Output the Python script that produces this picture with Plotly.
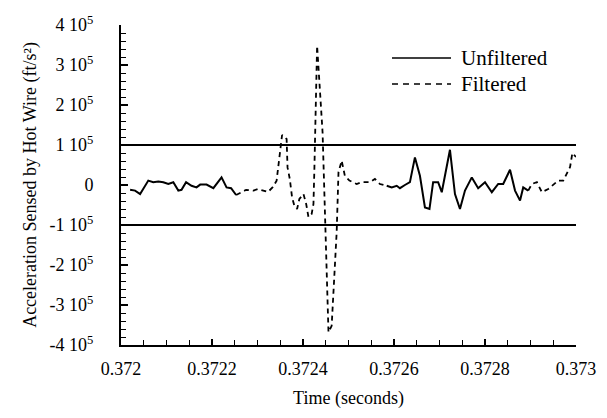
import plotly.graph_objects as go

# Unfiltered hot-wire acceleration (two stretches where it is shown)
t_unf_1 = [0.372020, 0.372031, 0.372042, 0.372060, 0.372071, 0.372082, 0.372093,
           0.372104, 0.372115, 0.372126, 0.372133, 0.372143, 0.372155, 0.372166,
           0.372174, 0.372188, 0.372203, 0.372221, 0.372232, 0.372242, 0.372253]
a_unf_1 = [-12000, -14000, -22500, 11000, 7000, 9000, 7000,
           2500, 7000, -14000, -12000, 7000, -2000, -6000,
           1000, 1000, -8000, 19000, -6000, -8000, -25000]

t_unf_2 = [0.372584, 0.372595, 0.372606, 0.372613, 0.372624, 0.372635, 0.372646,
           0.372657, 0.372668, 0.372678, 0.372686, 0.372697, 0.372705, 0.372714,
           0.372723, 0.372734, 0.372745, 0.372756, 0.372771, 0.372785, 0.372800,
           0.372815, 0.372829, 0.372840, 0.372855, 0.372866, 0.372877, 0.372884,
           0.372895]
a_unf_2 = [-2000, -6000, -2000, -8000, 0, 7000, 69000,
           23000, -56000, -60000, 7000, 7000, -18000, 36000,
           88000, -22500, -60000, -14000, 19000, -8000, 7000,
           -18000, 2500, 2500, 38000, -14000, -39000, -6000,
           -14000]

# Filtered acceleration
t_fil_1 = [0.372253, 0.372275, 0.372291, 0.372301, 0.372323, 0.372334, 0.372342,
           0.372349, 0.372354, 0.372364, 0.372366, 0.372371, 0.372376, 0.372381,
           0.372387, 0.372392, 0.372401, 0.372407, 0.372412, 0.372419, 0.372423,
           0.372425, 0.372431, 0.372443, 0.372448, 0.372456, 0.372463, 0.372474,
           0.372478, 0.372485, 0.372492, 0.372502, 0.372518, 0.372529, 0.372547,
           0.372558, 0.372569, 0.372584]
a_fil_1 = [-25000, -12000, -14000, -10000, -17500, -5000, 11000,
           73000, 125000, 115000, 44000, 15000, -31000, -52000,
           -60000, -35000, -22500, -47500, -80000, -72500, -47500,
           40000, 348000, 132000, -67500, -368000, -352000, -118000,
           32000, 61000, 23000, 11000, 2500, 7000, 7000,
           15000, 2500, -2000]

t_fil_2 = [0.372895, 0.372903, 0.372914, 0.372925, 0.372939, 0.372961, 0.372972,
           0.372987, 0.372992, 0.373000]
a_fil_2 = [-14000, 2500, 7000, -18000, -10000, 11000, 11000,
           45000, 80000, 70000]

# Reference limits at +/- 1e5
t_limits = [0.372, 0.373]
upper_limit = [100000, 100000]
lower_limit = [-100000, -100000]

y_ticks = [-400000, -300000, -200000, -100000, 0, 100000, 200000, 300000, 400000]
y_tick_text = ["-4 10<sup>5</sup>", "-3 10<sup>5</sup>", "-2 10<sup>5</sup>",
               "-1 10<sup>5</sup>", "0", "1 10<sup>5</sup>", "2 10<sup>5</sup>",
               "3 10<sup>5</sup>", "4 10<sup>5</sup>"]
x_ticks = [0.372, 0.3722, 0.3724, 0.3726, 0.3728, 0.373]
x_tick_text = ["0.372", "0.3722", "0.3724", "0.3726", "0.3728", "0.373"]

FONT = "Liberation Serif"
DASH = "5px,4px"

fig = go.Figure()

for t, a in ((t_unf_1, a_unf_1), (t_unf_2, a_unf_2)):
    fig.add_trace(go.Scatter(x=t, y=a, mode="lines",
                             line=dict(color="black", width=2),
                             showlegend=False, hoverinfo="skip"))
for t, a in ((t_fil_1, a_fil_1), (t_fil_2, a_fil_2)):
    fig.add_trace(go.Scatter(x=t, y=a, mode="lines",
                             line=dict(color="black", width=1.8, dash=DASH),
                             showlegend=False, hoverinfo="skip"))
for lim in (upper_limit, lower_limit):
    fig.add_trace(go.Scatter(x=t_limits, y=lim, mode="lines",
                             line=dict(color="black", width=2),
                             showlegend=False, hoverinfo="skip"))

# Legend drawn as line samples with text labels
W, H = 607, 418
ML, MR, MT, MB = 121, 31, 25, 73
pw, ph = W - ML - MR, H - MT - MB

def px(x):
    return (x - ML) / pw

def py(y):
    return 1 - (y - MT) / ph

fig.add_shape(type="line", xref="paper", yref="paper",
              x0=px(392), x1=px(451), y0=py(58), y1=py(58),
              line=dict(color="black", width=1.6))
fig.add_shape(type="line", xref="paper", yref="paper",
              x0=px(392), x1=px(451), y0=py(84), y1=py(84),
              line=dict(color="black", width=1.6, dash="6px,5px"))
fig.add_annotation(xref="paper", yref="paper", x=px(459), y=py(58),
                   text="Unfiltered", showarrow=False, xanchor="left",
                   yanchor="middle", font=dict(family=FONT, size=21, color="black"))
fig.add_annotation(xref="paper", yref="paper", x=px(459), y=py(84),
                   text="Filtered", showarrow=False, xanchor="left",
                   yanchor="middle", font=dict(family=FONT, size=21, color="black"))

fig.update_layout(
    width=W, height=H,
    margin=dict(l=ML, r=MR, t=MT, b=MB),
    paper_bgcolor="white", plot_bgcolor="white",
    font=dict(family=FONT, size=18, color="black"),
    showlegend=False,
)
fig.update_xaxes(
    range=[0.372, 0.373], tickvals=x_ticks, ticktext=x_tick_text,
    showgrid=False, zeroline=False, showline=True, linecolor="black", linewidth=2,
    ticks="inside", ticklen=6, tickwidth=1.5, tickcolor="black",
    minor=dict(dtick=0.00005, ticks="inside", ticklen=5, tickwidth=1.2, tickcolor="black"),
    ticklabelstandoff=6,
    title=dict(text="Time (seconds)", font=dict(family=FONT, size=18), standoff=14),
)
fig.update_yaxes(
    range=[-400000, 400000], tickvals=y_ticks, ticktext=y_tick_text,
    showgrid=False, zeroline=False, showline=True, linecolor="black", linewidth=2,
    ticks="inside", ticklen=7, tickwidth=1.5, tickcolor="black",
    minor=dict(dtick=20000, ticks="inside", ticklen=5, tickwidth=1.2, tickcolor="black"),
    ticklabelstandoff=22,
    title=dict(text="Acceleration Sensed by Hot Wire (ft/s²)",
               font=dict(family=FONT, size=18), standoff=8),
)

fig.write_html("out.html")
